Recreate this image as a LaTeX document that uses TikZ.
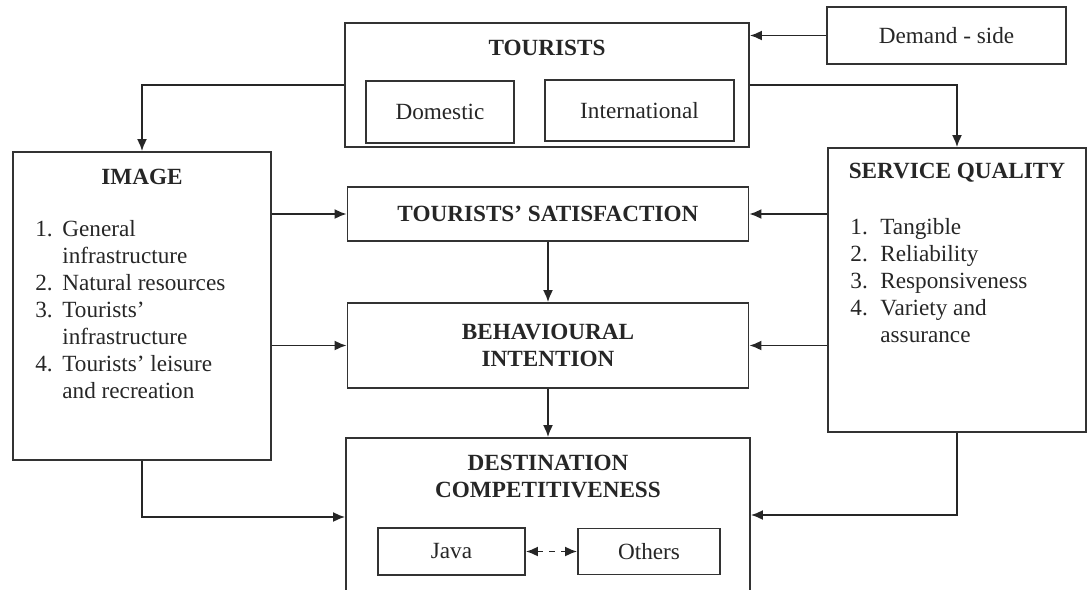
\documentclass[tikz,border=0pt]{standalone}
\usepackage{fontspec}
\setmainfont{Liberation Serif}
\usetikzlibrary{arrows.meta}

\begin{document}
\begin{tikzpicture}[x=0.5pt,y=-0.5pt,
  box/.style={draw=black!80, line width=0.9pt, inner sep=0pt},
  title/.style={font=\fontsize{11.6}{13.5}\selectfont\bfseries, align=center, text=black!85},
  plain/.style={font=\fontsize{11.6}{13.5}\selectfont, align=left, text=black!85},
  link/.style={->, draw=black!85, line width=0.9pt},
  >={Latex[length=6pt,width=5pt]}]
  \useasboundingbox (0,0) rectangle (1089,590);
  % boxes
  \node[box, minimum width=202pt, minimum height=62pt] (tour) at (547,85) {};
  \node[box, minimum width=74pt, minimum height=31pt, plain] (dom) at (440,112) {Domestic};
  \node[box, minimum width=94.5pt, minimum height=30.5pt, plain] (intl) at (639.5,110.5) {International};
  \node[box, minimum width=119.5pt, minimum height=28.5pt, plain] (dem) at (946.5,35.5) {Demand - side};
  \node[box, minimum width=129pt, minimum height=154pt] (img) at (142,306) {};
  \node[box, minimum width=129pt, minimum height=142pt] (serv) at (957,290) {};
  \node[box, minimum width=200.5pt, minimum height=27pt, title] (sat) at (548,214) {TOURISTS' SATISFACTION};
  \node[box, minimum width=200.5pt, minimum height=42.5pt, title] (beh) at (548,345.5) {BEHAVIOURAL\\INTENTION};
  \node[box, minimum width=202pt, minimum height=79pt] (dest) at (548,517) {};
  \node[box, minimum width=73.5pt, minimum height=23.5pt, plain] (java) at (451.5,551.5) {Java};
  \node[box, minimum width=71pt, minimum height=23pt, plain] (oth) at (649,551.5) {Others};
  % titles and lists
  \node[title] (tourT) at (547,48) {TOURISTS};
  \node[title] (imgT) at (142,177) {IMAGE};
  \node[title] (servT) at (957,173) {SERVICE QUALITY};
  \node[title] (destT) at (548,476.5) {DESTINATION\\COMPETITIVENESS};
  \node[plain, anchor=base west, inner sep=0pt] (imgL) at (35,236) {%
    \begin{tabular}[t]{@{}p{13.5pt}@{}l@{}}
      1. & General\\
         & infrastructure\\
      2. & Natural resources\\
      3. & Tourists'\\
         & infrastructure\\
      4. & Tourists' leisure\\
         & and recreation
    \end{tabular}};
  \node[plain, anchor=base west, inner sep=0pt] (servL) at (850,234) {%
    \begin{tabular}[t]{@{}p{15pt}@{}l@{}}
      1. & Tangible\\
      2. & Reliability\\
      3. & Responsiveness\\
      4. & Variety and\\
         & assurance
    \end{tabular}};
  % connectors
  \draw[link] (dem.west) -- (dem.west -| tour.east);
  \draw[link] (tour.west) -| (img.north);
  \draw[link] (tour.east) -| (serv.north);
  \draw[link] (img.east |- sat.west) -- (sat.west);
  \draw[link] (img.east |- beh.west) -- (beh.west);
  \draw[link] (img.south) |- (dest.west);
  \draw[link] (serv.west |- sat.east) -- (sat.east);
  \draw[link] (serv.west |- beh.east) -- (beh.east);
  \draw[link] (serv.south) |- ([yshift=1pt]dest.east);
  \draw[link] (sat.south) -- (beh.north);
  \draw[link] (beh.south) -- (dest.north);
  \draw[link, <->, dashed] (java.east) -- (oth.west);
\end{tikzpicture}
\end{document}
